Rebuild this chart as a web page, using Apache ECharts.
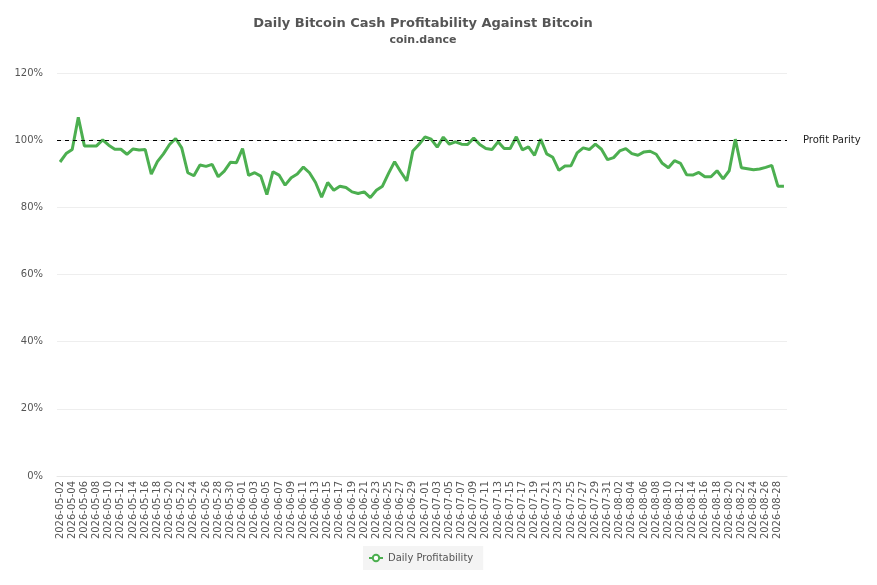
<!DOCTYPE html>
<html>
<head>
<meta charset="utf-8">
<script src="https://cdn.jsdelivr.net/npm/echarts@6/dist/echarts.min.js"></script>
<style>html,body{margin:0;padding:0;background:#fff}#c{width:877px;height:585px}</style>
</head>
<body>
<div id="c"></div>
<script>
const startDate = '2026-05-02';
const dayCount = 120;
const dates = [];
(function(){
  const d0 = new Date(startDate + 'T00:00:00Z');
  for (let i = 0; i < dayCount; i++) {
    const d = new Date(d0.getTime() + i * 86400000);
    dates.push(d.toISOString().slice(0, 10));
  }
})();

const profitability = [
  93.5, 96.0, 97.2, 106.8, 98.3, 98.3, 98.3, 100.1, 98.5, 97.3,
  97.3, 95.8, 97.4, 97.1, 97.2, 89.9, 93.6, 95.9, 98.7, 100.5,
  97.7, 90.3, 89.4, 92.6, 92.2, 92.8, 89.1, 90.8, 93.4, 93.3,
  97.5, 89.5, 90.3, 89.3, 83.8, 90.6, 89.6, 86.6, 88.8, 89.9,
  92.0, 90.3, 87.4, 83.0, 87.4, 85.1, 86.3, 85.9, 84.6, 84.1,
  84.6, 82.9, 85.1, 86.3, 90.1, 93.6, 90.6, 87.9, 96.8, 98.7,
  101.0, 100.3, 97.9, 100.9, 98.8, 99.5, 98.8, 98.7, 100.6, 98.7,
  97.5, 97.2, 99.5, 97.5, 97.5, 101.0, 97.1, 98.0, 95.5, 100.3,
  95.9, 94.9, 91.0, 92.3, 92.4, 96.2, 97.7, 97.2, 98.8, 97.3,
  94.2, 94.8, 96.8, 97.5, 96.0, 95.5, 96.5, 96.7, 95.8, 93.1,
  91.8, 93.9, 93.1, 89.7, 89.6, 90.4, 89.1, 89.1, 90.9, 88.5,
  90.9, 100.3, 91.8, 91.5, 91.2, 91.4, 91.9, 92.5, 86.3, 86.3
];

const yTicks = { min: 0, max: 120, interval: 20 };
const parityValue = 100;
const seriesName = 'Daily Profitability';
const parityLabel = 'Profit Parity';

const chart = echarts.init(document.getElementById('c'));
const font = 'DejaVu Sans';
chart.setOption({
  animation: false,
  textStyle: { fontFamily: font },
  title: {
    text: 'Daily Bitcoin Cash Profitability Against Bitcoin',
    subtext: 'coin.dance',
    left: 418,
    textAlign: 'center',
    top: 12,
    itemGap: 5,
    textStyle: { fontFamily: font, fontSize: 13, fontWeight: 'bold', color: '#555' },
    subtextStyle: { fontFamily: font, fontSize: 11, fontWeight: 'bold', color: '#555' }
  },
  legend: {
    bottom: 15,
    left: 363,
    data: [seriesName],
    backgroundColor: '#f4f4f4',
    padding: [7, 10, 7, 5],
    itemWidth: 14,
    itemHeight: 8,
    textStyle: { fontFamily: font, fontSize: 10, color: '#555' }
  },
  grid: { left: 57, right: 90, top: 73, bottom: 109, containLabel: false },
  xAxis: {
    type: 'category',
    data: dates,
    boundaryGap: true,
    axisLine: { show: true, lineStyle: { color: '#e6e6e6' } },
    axisTick: { show: false },
    axisLabel: { rotate: 90, interval: 1, fontSize: 10, color: '#555', fontFamily: font, margin: 5 }
  },
  yAxis: {
    type: 'value',
    min: yTicks.min, max: yTicks.max, interval: yTicks.interval,
    axisLine: { show: false },
    axisTick: { show: false },
    splitLine: { lineStyle: { color: '#eeeeee' } },
    axisLabel: { formatter: '{value}%', fontSize: 10, color: '#555', fontFamily: font, margin: 14 }
  },
  series: [{
    name: seriesName,
    type: 'line',
    data: profitability,
    showSymbol: false,
    symbol: 'emptyCircle',
    symbolSize: 6,
    itemStyle: { color: '#4caf50' },
    lineStyle: { color: '#4caf50', width: 3 },
    markLine: {
      silent: true,
      symbol: ['none', 'none'],
      data: [{ yAxis: parityValue }],
      lineStyle: { color: '#000', type: [4, 4], width: 1 },
      label: { show: true, position: 'end', formatter: parityLabel, color: '#222', fontSize: 10, fontFamily: font, distance: 16 }
    }
  }]
});
</script>
</body>
</html>
